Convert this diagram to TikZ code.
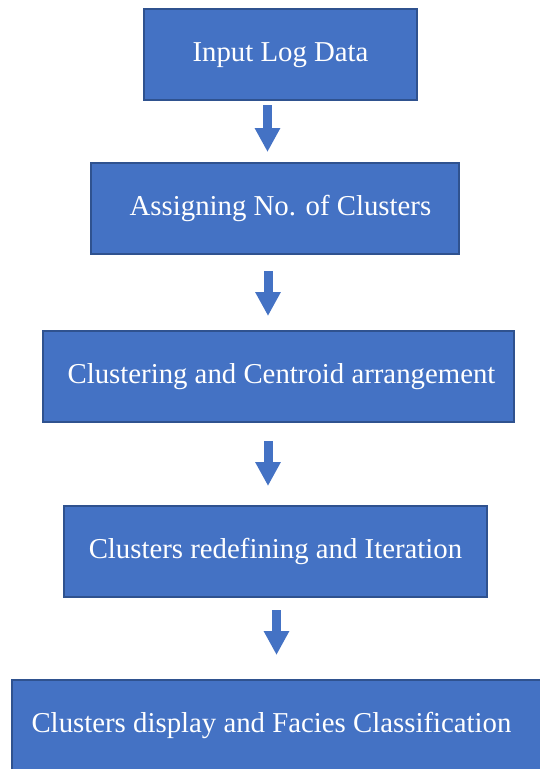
\documentclass[tikz,border=0pt]{standalone}
\usepackage{fontspec}
\setmainfont{Liberation Serif}
\usetikzlibrary{arrows.meta}
\definecolor{boxfill}{HTML}{4472C4}
\definecolor{boxline}{HTML}{2F528F}
\begin{document}
\begin{tikzpicture}[x=1pt,y=-1pt,
  stepbox/.style={draw=boxline, line width=1.5pt, fill=boxfill, text=white,
    minimum height=91pt, inner sep=0pt, outer sep=0pt,
    font=\fontsize{28.8}{34}\selectfont, text height=20pt, text depth=7pt},
  flow/.style={draw=boxfill, line width=9pt, line cap=butt,
    -{Triangle[width=24pt,length=24pt]}}]
\useasboundingbox (0,0) rectangle (539,769);
% process steps
\node[stepbox, minimum width=273pt] (b1) at (280.5,54.5) {Input Log Data};
\node[stepbox, minimum width=368pt] (b2) at (275,208.5) {\hspace*{11pt}Assigning No. of Clusters};
\node[stepbox, minimum width=471pt] (b3) at (278.5,376.5) {\hspace*{6pt}Clustering and Centroid arrangement};
\node[stepbox, minimum width=423pt] (b4) at (275.5,551.5) {Clusters redefining and Iteration};
% the last step runs past the right and bottom edges of the page
\node[stepbox, minimum width=545pt] (b5) at (284.5,725.5) {Clusters display and Facies Classification\hspace*{26pt}};
% x positions of the block arrows
\coordinate (c1) at (267.5,0);
\coordinate (c2) at (268,0);
\coordinate (c3) at (268,0);
\coordinate (c4) at (276.5,0);
% block arrows between the steps
\draw[flow] ([yshift=-5pt]b1.south -| c1) -- ([yshift=11pt]b2.north -| c1);
\draw[flow] ([yshift=-17pt]b2.south -| c2) -- ([yshift=15pt]b3.north -| c2);
\draw[flow] ([yshift=-19pt]b3.south -| c3) -- ([yshift=20pt]b4.north -| c3);
\draw[flow] ([yshift=-13pt]b4.south -| c4) -- ([yshift=25pt]b5.north -| c4);
\end{tikzpicture}
\end{document}
